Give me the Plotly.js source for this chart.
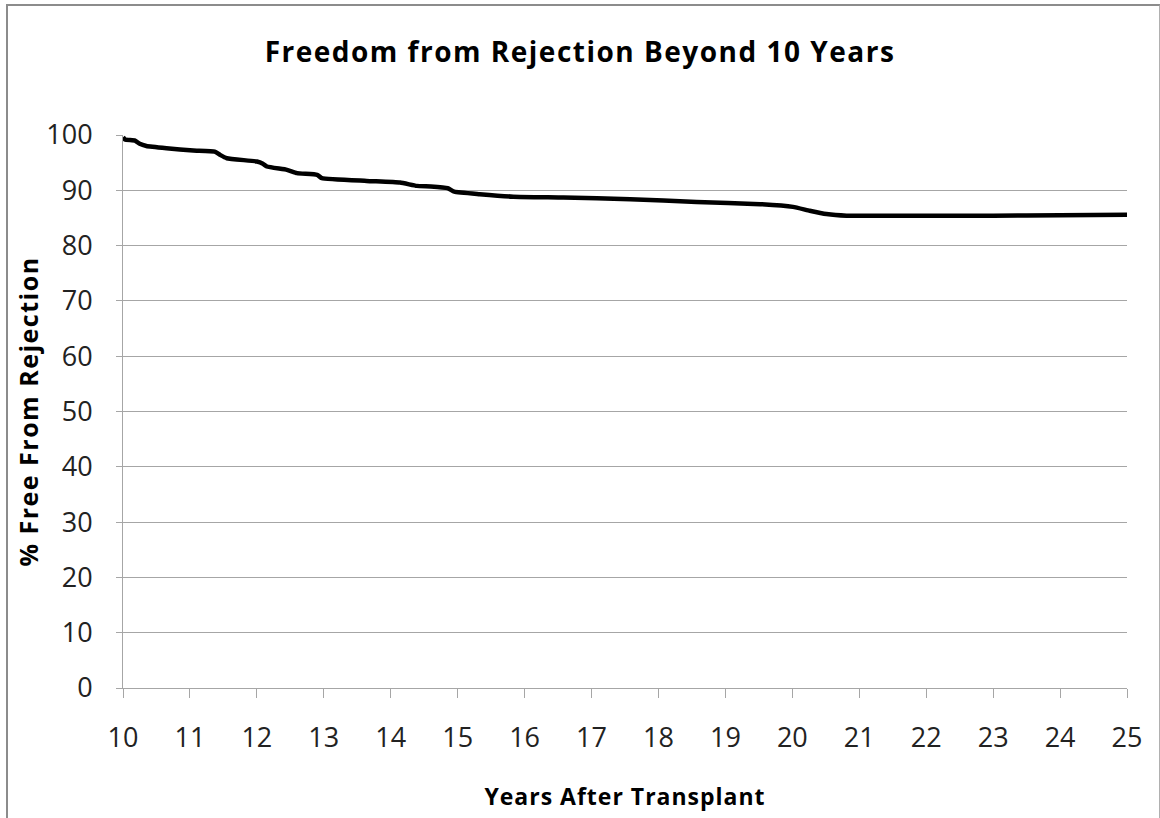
<!DOCTYPE html>
<html>
<head>
<meta charset="utf-8">
<script src="https://cdn.plot.ly/plotly-3.0.1.min.js"></script>
<style>
html, body { margin: 0; padding: 0; background: #fff; }
#wrap { position: relative; width: 1160px; height: 818px; }
#chart { position: absolute; left: 0; top: 0; width: 1160px; height: 818px; }
#frame { position: absolute; left: 6px; top: 4px; width: 1151px; height: 820px;
  border-left: 2px solid #8c8c8c; border-top: 2px solid #8c8c8c; border-right: 2px solid #b0b0b0;
  pointer-events: none; }
.gtitle { letter-spacing: 1.5px; }
.xtitle { letter-spacing: 1px; }
.ytitle { letter-spacing: 1.5px; }
</style>
</head>
<body>
<div id="wrap">
  <div id="chart"></div>
  <div id="frame"></div>
</div>
<script>
const titleText = "Freedom from Rejection Beyond 10 Years";
const xTitle = "Years After Transplant";
const yTitle = "% Free From Rejection";

const years = [10.0, 10.03, 10.18, 10.25, 10.35, 10.65, 11.05, 11.37, 11.45, 11.55, 12.0, 12.09, 12.15, 12.45, 12.6, 12.9, 12.97, 13.64, 14.14, 14.39, 14.6, 14.85, 14.95, 15.33, 15.83, 16.58, 17.58, 18.57, 19.52, 20.01, 20.26, 20.51, 20.81, 22.0, 23.0, 24.0, 25.0];
const pctFree = [99.6, 99.2, 99.0, 98.4, 98.0, 97.6, 97.2, 97.0, 96.4, 95.8, 95.2, 94.8, 94.3, 93.7, 93.1, 92.8, 92.2, 91.7, 91.4, 90.8, 90.7, 90.4, 89.75, 89.3, 88.85, 88.7, 88.4, 87.9, 87.5, 87.0, 86.3, 85.7, 85.4, 85.4, 85.4, 85.5, 85.6];

const xTicks = [10, 11, 12, 13, 14, 15, 16, 17, 18, 19, 20, 21, 22, 23, 24, 25];
const yTicks = [0, 10, 20, 30, 40, 50, 60, 70, 80, 90, 100];

const font = "Open Sans, Noto Sans, sans-serif";

const trace = {
  x: years, y: pctFree, type: "scatter", mode: "lines",
  line: { color: "#000", width: 4.5, shape: "spline", smoothing: 0.4 },
  hoverinfo: "x+y"
};

const layout = {
  width: 1160, height: 818,
  margin: { l: 123, r: 33, t: 135, b: 130 },
  paper_bgcolor: "#fff", plot_bgcolor: "#fff",
  showlegend: false,
  title: { text: "<b>" + titleText + "</b>", x: 0.5, xanchor: "center", y: 0.936, yanchor: "middle",
    font: { family: font, size: 28, color: "#000" } },
  xaxis: {
    range: [10, 25], tickvals: xTicks, ticktext: xTicks.map(String),
    showgrid: false, zeroline: false, showline: true, linecolor: "#a6a6a6", linewidth: 1,
    ticks: "outside", ticklen: 9, tickcolor: "#a6a6a6", tickwidth: 1,
    ticklabelstandoff: 17,
    tickfont: { family: font, size: 27, color: "#222" },
    title: { text: "<b>" + xTitle + "</b>", font: { family: font, size: 23, color: "#000" }, standoff: 34 }
  },
  yaxis: {
    range: [0, 100], tickvals: yTicks, ticktext: yTicks.map(String),
    showgrid: true, gridcolor: "#a6a6a6", gridwidth: 1,
    zeroline: false, showline: true, linecolor: "#a6a6a6", linewidth: 1,
    ticks: "outside", ticklen: 6, tickcolor: "#a6a6a6", tickwidth: 1,
    ticklabelstandoff: 18,
    tickfont: { family: font, size: 27, color: "#222" },
    title: { text: "<b>" + yTitle + "</b>", font: { family: font, size: 25, color: "#000" }, standoff: 0 }
  }
};

Plotly.newPlot("chart", [trace], layout, { displayModeBar: false, staticPlot: true });
</script>
</body>
</html>
